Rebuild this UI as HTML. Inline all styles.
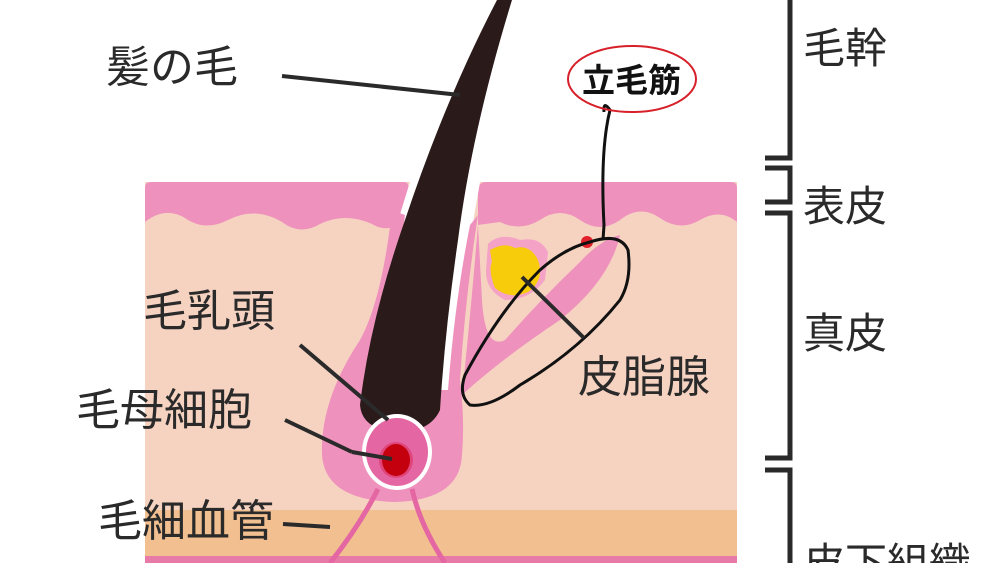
<!DOCTYPE html>
<html><head><meta charset="utf-8"><style>
html,body{margin:0;padding:0;background:#fff;}
svg{display:block}
text{font-family:"Liberation Sans","Noto Sans CJK JP",sans-serif;fill:#2a2a2a}
</style></head><body>
<svg width="1000" height="563" viewBox="0 0 1000 563" xmlns="http://www.w3.org/2000/svg">
<rect x="145" y="182" width="592" height="381" fill="#f6d3c1"/>
<rect x="145" y="510" width="592" height="48" fill="#f2bf90"/>
<rect x="145" y="556" width="592" height="7" fill="#e87aa8"/>
<path d="M145 188 Q145 182 151 182 L404 182 Q410 182 408 192 L398 225 Q385 232 372 224 Q345 212 320 224 Q300 236 282 222 Q255 206 228 220 Q205 232 185 218 Q165 206 145 222 Z" fill="#ee92bd"/>
<path d="M486 182 L731 182 Q737 182 737 188 L737 222 Q720 208 700 220 Q680 232 660 218 Q640 204 620 220 Q600 234 580 220 Q560 206 540 220 Q520 232 500 222 L478 225 L478 192 Q478 182 486 182 Z" fill="#ee92bd"/>
<path d="M410 182 L480 182 L470 240 L452 395 L385 395 L392 240 Z" fill="#fff"/>
<path d="M392 210 Q382 300 360 340 Q320 400 322 455 Q325 500 395 502 Q460 500 462 455 Q465 420 460 380 Q465 300 478 215 L470 225 Q455 300 448 390 L380 390 Q395 300 405 215 Z" fill="#ee92bd"/>
<path d="M478 225 Q470 320 462 395 Q500 360 560 320 Q610 280 620 235 Q600 240 580 262 Q540 300 505 340 Q485 350 482 300 Z" fill="#ee92bd"/>
<path d="M488 244 Q500 232 520 240 Q540 236 548 252 L545 280 Q530 300 505 300 Q485 290 486 270 Z" fill="#f4a3c6"/>
<path d="M490 250 Q505 242 515 248 Q530 244 538 260 Q545 280 528 292 Q510 300 495 288 Q488 270 492 262 Z" fill="#f7cc0a"/>
<!-- hair -->
<path d="M497 0 L512 0 Q472 130 458 240 Q445 330 440 410 Q430 432 398 432 Q362 430 360 405 Q370 320 405 220 Q445 100 497 0 Z" fill="#2b1a1a"/>
<ellipse cx="397" cy="452" rx="35" ry="38" fill="#fff"/>
<ellipse cx="397" cy="452" rx="31" ry="34" fill="#e466a2"/>
<ellipse cx="396" cy="460" rx="17" ry="18" fill="#e0457a"/>
<ellipse cx="396" cy="460" rx="14" ry="16" fill="#c4000f"/>
<path d="M378 489 Q360 525 330 563" stroke="#e466a2" stroke-width="5" fill="none"/>
<path d="M412 489 Q420 525 445 563" stroke="#e466a2" stroke-width="5" fill="none"/>
<circle cx="587" cy="242" r="6" fill="#e0202a"/>
<path d="M590 242 Q620 232 628 250 Q632 280 620 300 Q580 350 520 385 Q490 408 470 405 Q458 395 465 375 Q500 310 540 270 Q565 248 590 242 Z" stroke="#111" stroke-width="3" fill="none"/>
<path d="M604 112 Q603 100 610 110 Q600 150 604 225 L603 240" stroke="#111" stroke-width="3" fill="none"/>
<line x1="282" y1="76" x2="460" y2="95" stroke="#2a2a2a" stroke-width="4"/>
<line x1="300" y1="345" x2="388" y2="420" stroke="#2a2a2a" stroke-width="4"/>
<line x1="285" y1="420" x2="352" y2="452" stroke="#2a2a2a" stroke-width="4"/>
<line x1="352" y1="452" x2="392" y2="459" stroke="#2a2a2a" stroke-width="4"/>
<line x1="283" y1="524" x2="330" y2="527" stroke="#2a2a2a" stroke-width="4"/>
<line x1="522" y1="277" x2="584" y2="338" stroke="#2a2a2a" stroke-width="4"/>
<ellipse cx="632" cy="79" rx="64" ry="33" stroke="#d8202a" stroke-width="2" fill="none"/>
<text x="582" y="92" font-size="33" font-weight="bold" style="fill:#111">立毛筋</text>
<text x="106" y="82" font-size="44">髪の毛</text>
<text x="143" y="326" font-size="44">毛乳頭</text>
<text x="76" y="425" font-size="44">毛母細胞</text>
<text x="98" y="536" font-size="44">毛細血管</text>
<text x="578" y="392" font-size="44">皮脂腺</text>
<text x="803" y="63" font-size="42">毛幹</text>
<text x="803" y="221" font-size="42">表皮</text>
<text x="803" y="348" font-size="42">真皮</text>
<text x="803" y="578" font-size="42">皮下組織</text>
<g stroke="#2a2a2a" stroke-width="5" fill="none">
<path d="M790 0 L790 158 L765 158"/>
<path d="M765 168 L790 168 L790 202 L765 202"/>
<path d="M765 213 L790 213 L790 458 L765 458"/>
<path d="M765 470 L790 470 L790 563"/>
</g>
</svg>
</body></html>
